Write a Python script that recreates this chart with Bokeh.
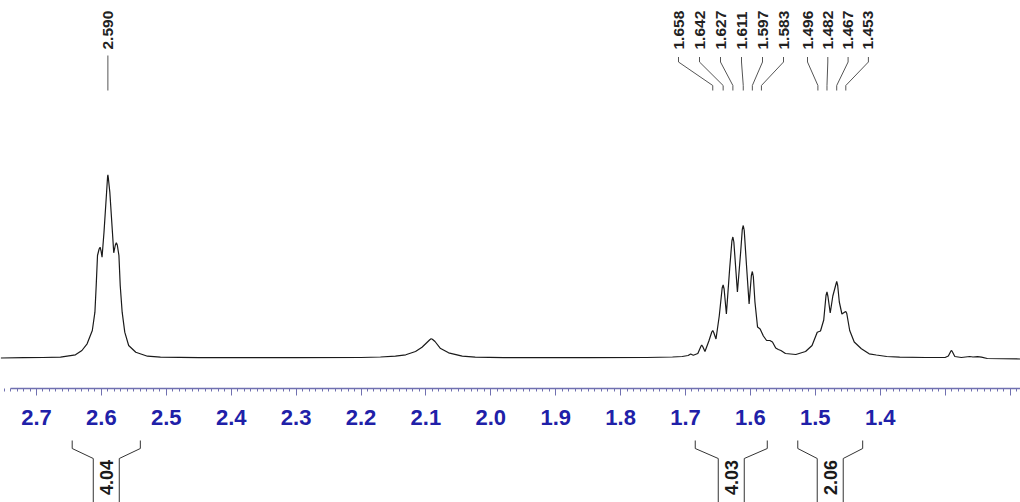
import math
from bokeh.plotting import figure
from bokeh.models import Range1d, FixedTicker, Label
from bokeh.layouts import column
from bokeh.embed import file_html
from bokeh.resources import INLINE
from bokeh.core.properties import value

# ---------------- data ----------------
# traced 1H NMR trace: chemical shift (ppm) and relative intensity
ppm = [2.755, 2.720, 2.690, 2.663, 2.640, 2.630, 2.622, 2.614, 2.610, 2.608,
       2.606, 2.6035, 2.602, 2.6005, 2.599, 2.596, 2.592, 2.5905, 2.590, 2.5895,
       2.587, 2.583, 2.581, 2.5785, 2.577, 2.5755, 2.573, 2.571, 2.568, 2.564,
       2.558, 2.547, 2.529, 2.509,
       2.450, 2.300, 2.200, 2.170, 2.147, 2.131, 2.116, 2.106, 2.098, 2.094,
       2.092, 2.090, 2.086, 2.078, 2.065, 2.044, 2.024, 1.980, 1.850, 1.760,
       1.720, 1.705, 1.696, 1.692, 1.688, 1.681, 1.676, 1.675, 1.6735, 1.670,
       1.664, 1.6595, 1.658, 1.6565, 1.653, 1.648, 1.6435, 1.642, 1.6405, 1.637,
       1.632, 1.6285, 1.627, 1.6255, 1.620, 1.615, 1.6125, 1.611, 1.6095, 1.606,
       1.602, 1.5985, 1.597, 1.5955, 1.593, 1.589, 1.585, 1.580, 1.575, 1.570,
       1.566, 1.561, 1.557, 1.553, 1.546, 1.530, 1.515, 1.505, 1.497, 1.492,
       1.487, 1.4835, 1.482, 1.4805, 1.477, 1.473, 1.4685, 1.467, 1.4655, 1.463,
       1.459, 1.4545, 1.453, 1.4515, 1.447, 1.440, 1.429, 1.417, 1.406, 1.390,
       1.370, 1.330, 1.300, 1.295, 1.291, 1.290, 1.289, 1.285, 1.275, 1.262,
       1.257, 1.250, 1.244, 1.235, 1.184]
intensity = [0.0, 0.3, 0.5, 0.8, 3.2, 7.5, 14.2, 27.5, 45.8, 72.5,
             102.5, 109.0, 110.8, 107.0, 100.8, 125.8, 165.8, 181.0, 183.2, 181.0,
             165.8, 125.8, 105.2, 113.0, 115.2, 113.0, 102.5, 72.5, 45.8, 25.8,
             12.5, 5.8, 1.8, 0.8,
             0.3, 0.3, 0.5, 1.0, 1.8, 3.2, 6.5, 10.8, 15.8, 18.3,
             19.2, 18.8, 16.5, 9.8, 5.2, 1.8, 0.8, 0.3, 0.3, 0.5,
             1.0, 1.5, 2.5, 4.0, 2.8, 4.5, 12.0, 13.0, 11.5, 6.5,
             17.0, 26.0, 27.5, 25.5, 19.0, 42.0, 70.0, 73.0, 69.0, 44.0,
             89.0, 117.0, 121.0, 116.0, 66.0, 106.0, 128.5, 132.5, 127.5, 92.5,
             54.0, 82.5, 86.5, 81.5, 56.0, 31.0, 29.0, 22.0, 17.5, 17.5,
             16.0, 10.0, 8.5, 7.5, 4.5, 3.5, 6.5, 12.5, 25.8, 27.0,
             38.0, 62.5, 66.0, 61.5, 45.0, 62.0, 73.0, 76.5, 72.5, 56.0,
             44.0, 46.0, 46.5, 44.5, 27.5, 16.0, 9.2, 4.2, 3.0, 1.5,
             0.8, 0.5, 0.5, 2.0, 7.0, 7.5, 6.5, 1.5, 0.5, 1.5,
             1.0, 1.3, 0.8, -0.5, -1.0]

# picked peaks and their label groups
peak_values = [2.590, 1.658, 1.642, 1.627, 1.611, 1.597, 1.583,
               1.496, 1.482, 1.467, 1.453]
peak_groups = [0, 1, 1, 1, 1, 1, 1, 2, 2, 2, 2]

# integrals
integral_start = [2.645, 1.685, 1.527]
integral_end = [2.540, 1.574, 1.427]
integral_values = [4.04, 4.03, 2.06]

# axis
tick_values = [2.7, 2.6, 2.5, 2.4, 2.3, 2.2, 2.1, 2.0, 1.9, 1.8, 1.7, 1.6, 1.5, 1.4, 1.3, 1.2]
tick_labels = ["2.7", "2.6", "2.5", "2.4", "2.3", "2.2", "2.1", "2.0", "1.9", "1.8",
               "1.7", "1.6", "1.5", "1.4", "", ""]
unit_label = "ppm"

# ---------------- layout helpers ----------------
PX = 1.0 / 649.0          # ppm per screen pixel
X0_PPM, X0_PX = 2.7, 36.0  # reference tick position
BASE_PX = 357.5            # baseline pixel row


def px_to_ppm(x):
    return X0_PPM - (x - X0_PX) * PX


def row(ypix):
    return BASE_PX - ypix


FONT = value("Liberation Sans")
BLUE = "#2020a8"
AXIS_COL = "#7070b0"

x_range = Range1d(px_to_ppm(0), px_to_ppm(1020))

p = figure(width=1020, height=438, x_range=x_range,
           y_range=Range1d(row(388), row(0)),
           output_backend="svg", toolbar_location=None,
           min_border_left=0, min_border_right=0, min_border_top=0,
           min_border_bottom=50, y_axis_location=None,
           outline_line_color=None, background_fill_color="white",
           border_fill_color="white")
p.grid.visible = False

p.line(ppm, intensity, line_color="#1a1a1a", line_width=1.2)

# peak labels with leader lines
group_start_px = {1: 678.0, 2: 807.0}
group_step_px = {1: 21.0, 2: 20.3}
counters = {1: 0, 2: 0}
label_x, leader_xs, leader_ys = [], [], []
for v, g in zip(peak_values, peak_groups):
    if g == 0:
        lx = v
        leader_xs.append([v, v])
        leader_ys.append([row(55), row(90)])
    else:
        lx = px_to_ppm(group_start_px[g] + counters[g] * group_step_px[g])
        counters[g] += 1
        leader_xs.append([lx, lx, v, v])
        leader_ys.append([row(56.5), row(61.5), row(85), row(90)])
    label_x.append(lx)

p.multi_line(leader_xs, leader_ys, line_color="#555555", line_width=1)
p.text(x=label_x, y=[row(49)] * len(label_x),
       text=["%.3f" % v for v in peak_values], angle=math.pi / 2,
       text_font=FONT, text_font_style="bold", text_font_size="15.5px",
       text_align="left", text_baseline="middle", text_color="#222222")

# axis
minor = [round(2.75 - i * 0.01, 2) for i in range(0, 158)]
ax = p.xaxis[0]
ax.ticker = FixedTicker(ticks=tick_values, minor_ticks=minor)
ax.major_label_overrides = {t: l for t, l in zip(tick_values, tick_labels)}
ax.bounds = (px_to_ppm(1020), px_to_ppm(10))
ax.axis_line_color = AXIS_COL
ax.axis_line_width = 1.3
ax.major_tick_line_color = AXIS_COL
ax.minor_tick_line_color = AXIS_COL
ax.major_tick_out = 7
ax.major_tick_in = 0
ax.minor_tick_out = 3
ax.minor_tick_in = 0
ax.major_label_standoff = 14
ax.major_label_text_color = BLUE
ax.major_label_text_font = "Liberation Sans"
ax.major_label_text_font_style = "bold"
ax.major_label_text_font_size = "22px"

p.add_layout(Label(x=px_to_ppm(987), y=row(421), text=unit_label,
                   text_font="Liberation Sans", text_font_style="bold",
                   text_font_size="22px", text_color=BLUE,
                   text_align="center", text_baseline="middle"))

# integrals (bottom strip)
q = figure(width=1020, height=64, x_range=x_range,
           y_range=Range1d(row(502), row(438)),
           output_backend="svg", toolbar_location=None,
           min_border=0, x_axis_location=None, y_axis_location=None,
           outline_line_color=None, background_fill_color="white",
           border_fill_color="white")
q.grid.visible = False

half = 13 * PX
bx, by, tx = [], [], []
for s, e in zip(integral_start, integral_end):
    c = (s + e) / 2.0
    bx.append([s, s, c + half, c + half])
    by.append([row(440), row(448), row(458), row(502)])
    bx.append([e, e, c - half, c - half])
    by.append([row(440), row(448), row(458), row(502)])
    tx.append(c)

q.multi_line(bx, by, line_color="#333333", line_width=1)
q.text(x=tx, y=[row(477)] * len(tx), text=["%.2f" % v for v in integral_values],
       angle=math.pi / 2, text_font=FONT, text_font_style="bold",
       text_font_size="18px", text_align="center", text_baseline="middle",
       text_color="#1a1a1a")

layout = column(p, q, spacing=0)
open("out.html", "w").write(file_html(layout, INLINE))
